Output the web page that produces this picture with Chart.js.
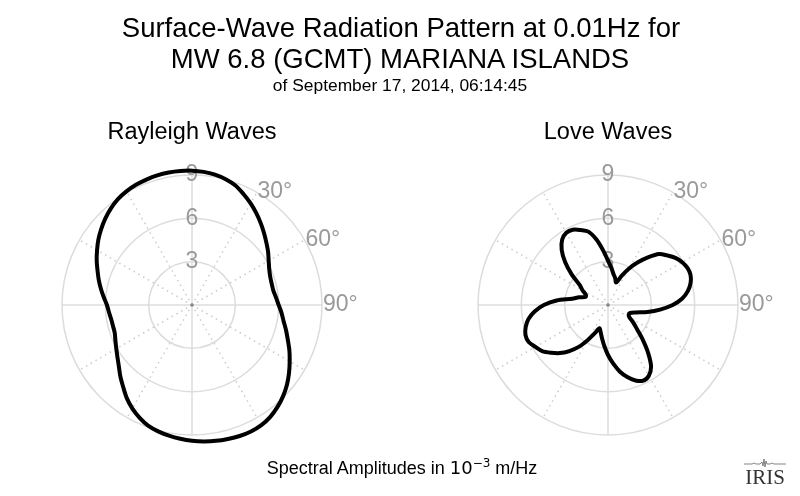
<!DOCTYPE html>
<html>
<head>
<meta charset="utf-8">
<script src="https://cdn.jsdelivr.net/npm/chart.js@4.4.1/dist/chart.umd.min.js"></script>
<style>
body { margin: 0; background: #fff; }
#page { position: relative; width: 800px; height: 496px; overflow: hidden; font-family: "Liberation Sans", Arial, sans-serif; color: #000; }
.txt { position: absolute; white-space: nowrap; line-height: 1; transform: translate(-50%, -50%); }
.box { position: absolute; top: 0; width: 400px; height: 496px; }
</style>
</head>
<body>
<div id="page">
  <div class="box" style="left:0"><canvas id="rayleigh" width="400" height="496"></canvas></div>
  <div class="box" style="left:400px"><canvas id="love" width="400" height="496"></canvas></div>

  <div class="txt" style="left:401px;top:28px;font-size:27.5px">Surface-Wave Radiation Pattern at 0.01Hz for</div>
  <div class="txt" style="left:400px;top:59px;font-size:27.5px">MW 6.8 (GCMT) MARIANA ISLANDS</div>
  <div class="txt" style="left:400px;top:86px;font-size:17.4px">of September 17, 2014, 06:14:45</div>
  <div class="txt" style="left:192px;top:132px;font-size:23.5px">Rayleigh Waves</div>
  <div class="txt" style="left:608px;top:132px;font-size:23.5px">Love Waves</div>
  <div class="txt" style="left:402px;top:467px;font-size:18px">Spectral Amplitudes in <span style="font-family:'DejaVu Sans'">10<sup style="font-size:12px;vertical-align:7px">−3</sup></span> m/Hz</div>

  <svg style="position:absolute;left:744px;top:458px" width="42" height="10">
    <polyline fill="none" stroke="#666" stroke-width="0.8" points="0,6 8,6 10,5 12,6 16,6 18,4 19,8 20,1 21,9 22,3 23,6 26,6 28,5 30,6 42,6"/>
  </svg>
  <div class="txt" style="left:765px;top:477px;font-size:21px;font-family:'Liberation Serif',serif;color:#333">IRIS</div>
</div>
<script>
// azimuth (deg, clockwise from north)
var azimuths = [0,5,10,15,20,25,30,35,40,45,50,55,60,65,70,75,80,85,90,95,100,105,110,115,
  120,125,130,135,140,145,150,155,160,165,170,175,180,185,190,195,200,205,210,215,220,225,230,235,
  240,245,250,255,260,265,270,275,280,285,290,295,300,305,310,315,320,325,330,335,340,345,350,355];

// amplitudes in 1e-3 m/Hz
var rayleigh = [9.30,9.25,9.16,9.01,8.80,8.46,8.12,7.76,7.40,7.05,6.72,6.43,6.13,5.90,5.76,5.71,5.72,5.84,
  6.00,6.22,6.44,6.74,7.06,7.44,7.81,8.20,8.58,8.92,9.21,9.45,9.60,9.66,9.65,9.60,9.55,9.48,
  9.40,9.30,9.19,9.06,8.89,8.61,8.27,7.87,7.41,7.01,6.61,6.30,6.05,5.85,5.69,5.66,5.68,5.77,
  5.89,6.13,6.40,6.68,6.96,7.28,7.59,7.91,8.20,8.48,8.73,8.94,9.08,9.18,9.24,9.29,9.31,9.31];

var love = [3.07,2.60,2.18,1.92,1.66,2.22,2.92,3.61,4.30,5.00,5.34,5.69,5.93,6.07,6.08,5.92,5.62,5.16,
  4.48,3.62,2.78,2.00,1.62,1.58,1.72,2.15,2.64,3.41,4.32,5.20,5.65,5.78,5.56,5.16,4.67,4.06,
  3.46,2.87,2.36,1.96,1.72,2.15,2.79,3.54,4.16,4.71,5.14,5.56,5.80,6.06,6.08,5.90,5.59,5.10,
  4.44,3.57,2.52,2.06,1.64,1.70,2.04,2.37,3.27,4.20,4.99,5.53,5.77,5.75,5.52,5.26,4.60,3.78];

var rTicks = [3, 6, 9];
var shownAngles = [30, 60, 90];
var centre = [0];

var GREY = '#9a9a9a';
var FONT = '"Liberation Sans", Arial, sans-serif';
var LABEL_SIZE = 23;

var angleLabels = {
  id: 'angleLabels',
  beforeDatasetsDraw: function(chart) {
    var scale = chart.scales.r, ctx = chart.ctx;
    ctx.save();
    ctx.font = LABEL_SIZE + 'px ' + FONT;
    ctx.fillStyle = GREY;
    ctx.textAlign = 'left';
    ctx.textBaseline = 'middle';
    shownAngles.forEach(function(a) {
      var p = scale.getPointPosition(azimuths.indexOf(a), scale.drawingArea + 1);
      ctx.fillText(a + '°', p.x, p.y);
    });
    ctx.restore();
  }
};

// chart area 283x283; the radial scale keeps LABEL_SIZE/2 inside each side -> radius 130
function makePolar(id, values, padLeft, padRight) {
  return new Chart(document.getElementById(id), {
    type: 'radar',
    data: {
      labels: azimuths,
      datasets: [{
        data: values,
        borderColor: '#000',
        borderWidth: 4,
        fill: false,
        tension: 0.3,
        pointRadius: 0,
        borderJoinStyle: 'round'
      }, {
        data: centre,
        showLine: false,
        borderWidth: 0,
        pointRadius: 1.8,
        pointBackgroundColor: '#888',
        pointBorderWidth: 0
      }]
    },
    options: {
      responsive: false,
      animation: false,
      layout: { padding: { left: padLeft, right: padRight, top: 163.5, bottom: 49.5 } },
      plugins: { legend: { display: false }, tooltip: { enabled: false } },
      scales: {
        r: {
          min: 0,
          max: 9,
          startAngle: 0,
          ticks: {
            stepSize: 3,
            color: GREY,
            font: { size: LABEL_SIZE, family: FONT },
            showLabelBackdrop: false,
            backdropPadding: 0,
            callback: function(v) { return rTicks.indexOf(v) >= 0 ? String(v) : ''; }
          },
          grid: { circular: true, color: '#dcdcdc', lineWidth: 1.5 },
          angleLines: {
            color: function(c) {
              var a = azimuths[c.index];
              return a % 90 === 0 ? '#dcdcdc' : '#cdcdcd';
            },
            lineWidth: function(c) { return azimuths[c.index] % 30 === 0 ? 1.5 : 0; },
            borderDash: function(c) { return azimuths[c.index] % 90 === 0 ? [] : [1.5, 4]; }
          },
          pointLabels: { display: false }
        }
      }
    },
    plugins: [angleLabels]
  });
}

makePolar('rayleigh', rayleigh, 50.5, 66.5);
makePolar('love', love, 66.5, 50.5);
</script>
</body>
</html>
